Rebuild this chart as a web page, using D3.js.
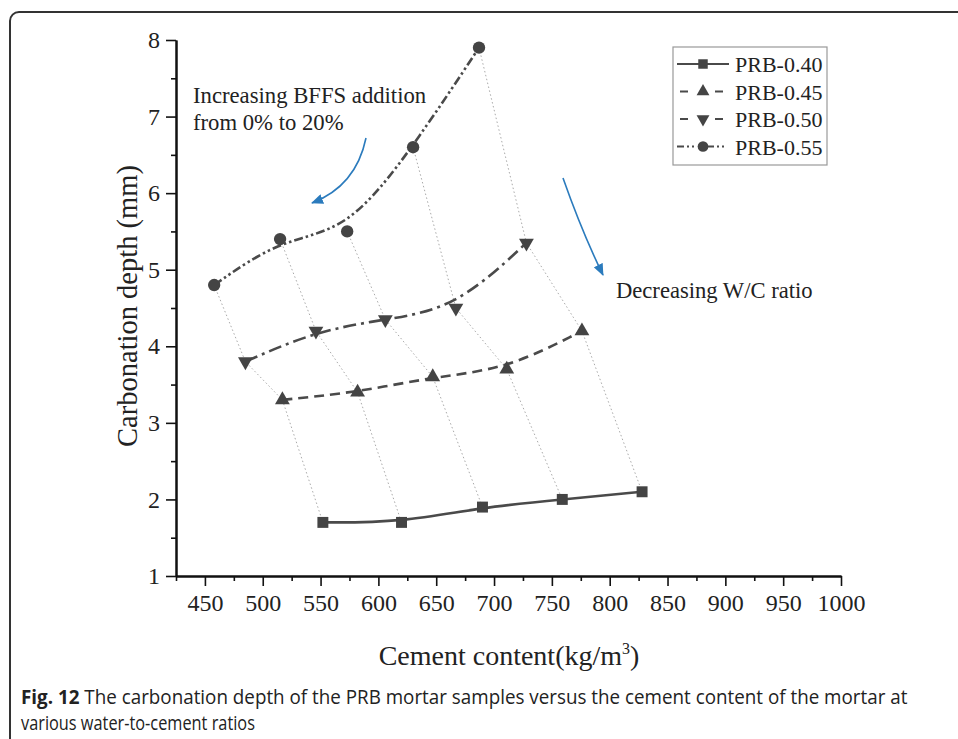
<!DOCTYPE html>
<html>
<head>
<meta charset="utf-8">
<script src="https://cdn.jsdelivr.net/npm/d3@7/dist/d3.min.js"></script>
<style>
  html, body { margin: 0; padding: 0; background: #fff; }
  svg { display: block; }
</style>
</head>
<body>
<svg id="chart" width="958" height="739"></svg>
<script>
// ---------- data ----------
const seriesNames = ["PRB-0.40", "PRB-0.45", "PRB-0.50", "PRB-0.55"];
const cement040 = [552, 620, 690, 759, 828];
const depth040  = [1.7, 1.7, 1.9, 2.0, 2.1];
const cement045 = [517, 582, 647, 711, 776];
const depth045  = [3.3, 3.4, 3.6, 3.7, 4.2];
const cement050 = [485, 546, 606, 667, 728];
const depth050  = [3.8, 4.2, 4.35, 4.5, 5.35];
const cement055 = [458, 515, 573, 630, 687];
const depth055  = [4.8, 5.4, 5.5, 6.6, 7.9];
const xMajorTicks = [450, 500, 550, 600, 650, 700, 750, 800, 850, 900, 950, 1000];
const xMinorTicks = [425, 475, 525, 575, 625, 675, 725, 775, 825, 875, 925, 975];
const yMajorTicks = [1, 2, 3, 4, 5, 6, 7, 8];
const yMinorTicks = [1.5, 2.5, 3.5, 4.5, 5.5, 6.5, 7.5];

const series = [
  { name: seriesNames[0], xs: cement040, ys: depth040, symbol: d3.symbolSquare, size: 120, rot: 0, dash: null,
    legendDash: null },
  { name: seriesNames[1], xs: cement045, ys: depth045, symbol: d3.symbolTriangle, size: 95, rot: 0, dash: "10,6",
    legendDash: "0,3,8,27,8,20" },
  { name: seriesNames[2], xs: cement050, ys: depth050, symbol: d3.symbolTriangle, size: 95, rot: 180, dash: "13,5,3,5",
    legendDash: "0,3,8,27,8,20" },
  { name: seriesNames[3], xs: cement055, ys: depth055, symbol: d3.symbolCircle, size: 120, rot: 0, dash: "9,3,2.5,3,2.5,3",
    legendDash: "7,3,2,3,2,14,6,3,2,3,2,20" }
];

const svg = d3.select("#chart");
const serif = "'Liberation Serif', 'Times New Roman', serif";
const textCol = "#222";
const markCol = "#444";

// outer frame
svg.append("rect")
  .attr("x", 10).attr("y", 12).attr("width", 980).attr("height", 760)
  .attr("rx", 9).attr("fill", "none").attr("stroke", "#333").attr("stroke-width", 2);

const x = d3.scaleLinear().domain([425, 1000]).range([176, 841]);
const y = d3.scaleLinear().domain([1, 8]).range([576, 40]);

// connector dotted lines
const nPts = cement040.length;
const conLine = d3.line().x(d => x(d[0])).y(d => y(d[1]));
for (let i = 0; i < nPts; i++) {
  const pts = [series[3], series[2], series[1], series[0]].map(s => [s.xs[i], s.ys[i]]);
  svg.append("path").attr("d", conLine(pts))
    .attr("fill", "none").attr("stroke", "#aaa").attr("stroke-width", 1)
    .attr("stroke-dasharray", "1.5,2.5");
}

// series lines
const curve = d3.line().x(d => x(d[0])).y(d => y(d[1])).curve(d3.curveBasis);
series.forEach(s => {
  const pts = s.xs.map((v, i) => [v, s.ys[i]]);
  svg.append("path").attr("d", curve(pts))
    .attr("fill", "none").attr("stroke", "#4a4a4a").attr("stroke-width", 2.6)
    .attr("stroke-dasharray", s.dash);
});

// markers
series.forEach(s => {
  const sym = d3.symbol().type(s.symbol).size(s.size);
  s.xs.forEach((v, i) => {
    svg.append("path").attr("d", sym())
      .attr("transform", `translate(${x(v)},${y(s.ys[i])}) rotate(${s.rot})`)
      .attr("fill", markCol);
  });
});

// axes
function styleAxis(g) {
  g.selectAll("path.domain").attr("stroke", "#111").attr("stroke-width", 2);
  g.selectAll(".tick line").attr("stroke", "#111").attr("stroke-width", 1.6);
  g.selectAll(".tick text").attr("fill", textCol).style("font-family", serif).style("font-size", "24px");
}
const xMinor = svg.append("g").attr("transform", `translate(0,${y(1)})`)
  .call(d3.axisBottom(x).tickValues(xMinorTicks).tickSize(5).tickSizeOuter(0).tickFormat(""));
styleAxis(xMinor);
const xMajor = svg.append("g").attr("transform", `translate(0,${y(1)})`)
  .call(d3.axisBottom(x).tickValues(xMajorTicks).tickSize(10).tickSizeOuter(0).tickPadding(8).tickFormat(d3.format("d")));
styleAxis(xMajor);
const yMinor = svg.append("g").attr("transform", `translate(${x(425)},0)`)
  .call(d3.axisLeft(y).tickValues(yMinorTicks).tickSize(5).tickSizeOuter(0).tickFormat(""));
styleAxis(yMinor);
const yMajor = svg.append("g").attr("transform", `translate(${x(425)},0)`)
  .call(d3.axisLeft(y).tickValues(yMajorTicks).tickSize(10).tickSizeOuter(0).tickPadding(6).tickFormat(d3.format("d")));
styleAxis(yMajor);

// axis titles
const xt = svg.append("text").attr("x", 509).attr("y", 665).attr("text-anchor", "middle")
  .style("font-family", serif).style("font-size", "28px").attr("fill", textCol);
xt.append("tspan").text("Cement content(kg/m");
xt.append("tspan").attr("dy", -11).style("font-size", "16px").text("3");
xt.append("tspan").attr("dy", 11).text(")");

svg.append("text").attr("transform", `translate(137,${(y(1) + y(8)) / 2 - 2}) rotate(-90)`)
  .attr("text-anchor", "middle")
  .style("font-family", serif).style("font-size", "28.5px").attr("fill", textCol)
  .text("Carbonation depth (mm)");

// legend
const lg = svg.append("g");
lg.append("rect").attr("x", 673).attr("y", 47).attr("width", 154).attr("height", 118)
  .attr("fill", "#fff").attr("stroke", "#999").attr("stroke-width", 1.2);
series.forEach((s, i) => {
  const ly = 64 + i * 27.5;
  lg.append("line").attr("x1", 677).attr("x2", 729).attr("y1", ly).attr("y2", ly)
    .attr("stroke", "#4a4a4a").attr("stroke-width", 2.2)
    .attr("stroke-dasharray", s.legendDash);
  const sym = d3.symbol().type(s.symbol).size(s.size * 0.75);
  lg.append("path").attr("d", sym())
    .attr("transform", `translate(703,${ly}) rotate(${s.rot})`).attr("fill", markCol);
  lg.append("text").attr("x", 735).attr("y", ly + 8)
    .style("font-family", serif).style("font-size", "22px").attr("fill", textCol).text(s.name);
});

// annotations
const ann = svg.append("text").style("font-family", serif).style("font-size", "22.7px").attr("fill", textCol);
ann.append("tspan").attr("x", 193).attr("y", 103).text("Increasing BFFS addition");
ann.append("tspan").attr("x", 193).attr("y", 130).text("from 0% to 20%");
svg.append("text").attr("x", 616).attr("y", 298)
  .style("font-family", serif).style("font-size", "22.6px").attr("fill", textCol)
  .text("Decreasing W/C ratio");

// blue arrows
const blue = "#2b7bbd";
const defs = svg.append("defs");
defs.append("marker").attr("id", "ah").attr("viewBox", "0 0 12 10")
  .attr("refX", 11).attr("refY", 5).attr("markerWidth", 12).attr("markerHeight", 10)
  .attr("markerUnits", "userSpaceOnUse").attr("orient", "auto")
  .append("path").attr("d", "M0,0 L12,5 L0,10 Z").attr("fill", blue);
svg.append("path").attr("d", "M366,138 Q356,186 312,203")
  .attr("fill", "none").attr("stroke", blue).attr("stroke-width", 1.6).attr("marker-end", "url(#ah)");
svg.append("path").attr("d", "M563,178 Q582,232 603,275")
  .attr("fill", "none").attr("stroke", blue).attr("stroke-width", 1.6).attr("marker-end", "url(#ah)");

// caption (condensed by horizontal scaling to fit the reference widths)
const capFont = "'Open Sans', 'Noto Sans', sans-serif";
function captionLine(yPos, targetWidth, build) {
  const g = svg.append("g");
  const t = g.append("text").attr("x", 0).attr("y", 0)
    .style("font-family", capFont).style("font-size", "20px").attr("fill", "#222");
  build(t);
  const w = t.node().getComputedTextLength();
  g.attr("transform", `translate(21,${yPos}) scale(${targetWidth / w},1)`);
}
captionLine(704, 887, t => {
  t.append("tspan").style("font-weight", "bold").text("Fig. 12");
  t.append("tspan").text(" The carbonation depth of the PRB mortar samples versus the cement content of the mortar at");
});
captionLine(730, 234, t => t.text("various water-to-cement ratios"));
</script>
</body>
</html>
